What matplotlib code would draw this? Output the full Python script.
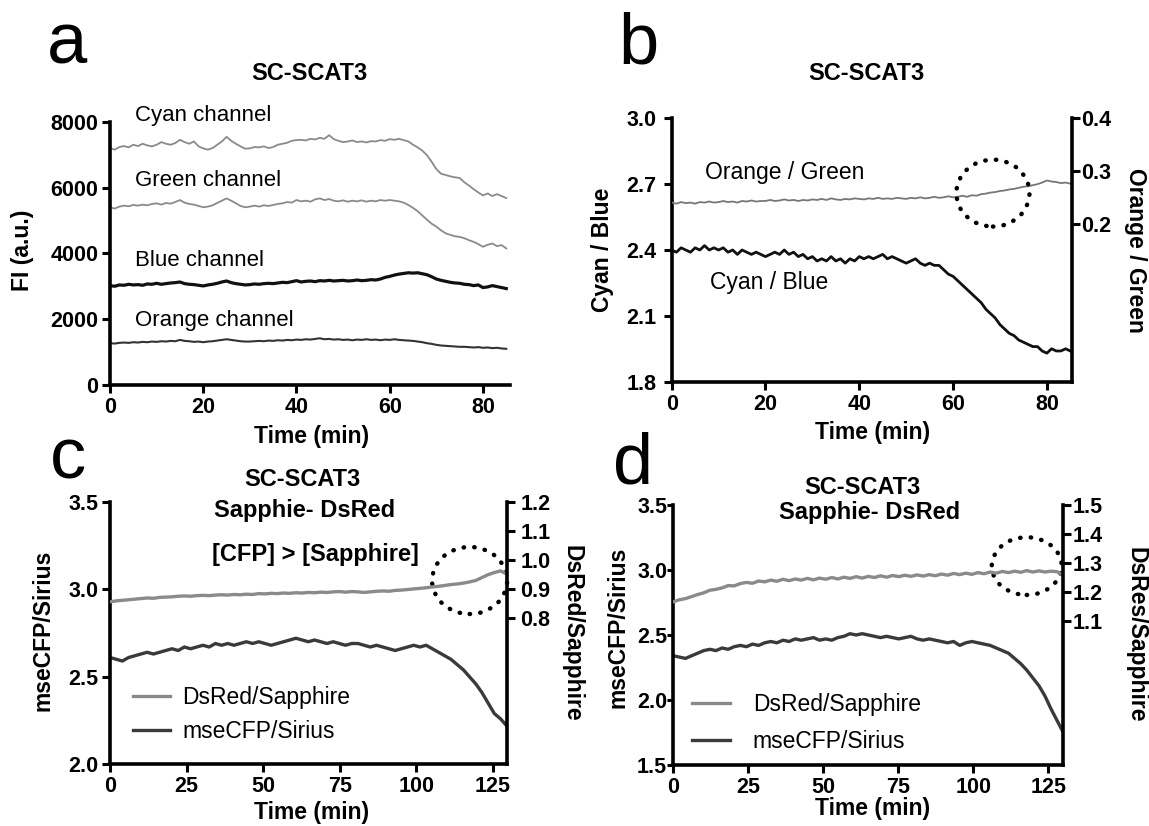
import matplotlib.pyplot as plt
import numpy as np
from matplotlib.patches import Ellipse

plt.rcParams['font.family'] = ['Liberation Sans', 'DejaVu Sans']

# ---------------- data ----------------
# panel a: fluorescence intensity per channel, one value per minute (0-85 min)
time_a = np.arange(0, 86)
cyan = [7200, 7150, 7230, 7260, 7220, 7300, 7260, 7330, 7280, 7250,
        7300, 7380, 7330, 7300, 7350, 7450, 7380, 7330, 7400, 7250,
        7190, 7150, 7200, 7300, 7400, 7540, 7420, 7330, 7250, 7180,
        7190, 7230, 7220, 7250, 7200, 7230, 7300, 7330, 7360, 7420,
        7440, 7450, 7430, 7480, 7460, 7510, 7480, 7590, 7470, 7420,
        7380, 7400, 7430, 7380, 7400, 7370, 7410, 7400, 7440, 7420,
        7470, 7450, 7480, 7440, 7400, 7300, 7220, 7120, 6980, 6780,
        6560, 6420, 6380, 6340, 6310, 6290, 6160, 6060, 5950, 5850,
        5760, 5820, 5740, 5800, 5740, 5680]
green = [5400, 5360, 5420, 5450, 5430, 5470, 5450, 5480, 5460, 5500,
         5520, 5480, 5530, 5510, 5560, 5620, 5540, 5500, 5480, 5440,
         5400, 5420, 5460, 5530, 5600, 5670, 5600, 5520, 5440, 5400,
         5420, 5450, 5420, 5460, 5440, 5470, 5500, 5520, 5560, 5540,
         5620, 5580, 5600, 5570, 5640, 5670, 5620, 5650, 5600, 5580,
         5610, 5570, 5600, 5580, 5610, 5570, 5600, 5580, 5620, 5600,
         5620, 5600, 5580, 5540, 5470, 5380, 5280, 5150, 5020, 4900,
         4810, 4700, 4610, 4560, 4520, 4500, 4460, 4400, 4350, 4280,
         4200, 4260, 4300, 4220, 4250, 4150]
blue = [3020, 3000, 3040, 3030, 3060, 3040, 3050, 3030, 3070, 3060,
        3090, 3060, 3080, 3100, 3110, 3130, 3080, 3060, 3050, 3030,
        3010, 3040, 3060, 3090, 3130, 3160, 3110, 3080, 3060, 3040,
        3050, 3070, 3060, 3080, 3090, 3080, 3100, 3120, 3110, 3140,
        3170, 3130, 3150, 3160, 3140, 3170, 3160, 3180, 3160, 3170,
        3180, 3160, 3170, 3190, 3170, 3180, 3200, 3190, 3220, 3270,
        3300, 3340, 3370, 3390, 3410, 3400, 3410, 3380, 3350, 3290,
        3220, 3180, 3150, 3120, 3100, 3090, 3060, 3050, 3020, 3040,
        2960, 2980, 3020, 2990, 2960, 2930]
orange = [1270, 1260, 1280, 1290, 1280, 1300, 1290, 1310, 1300, 1320,
          1310, 1330, 1320, 1340, 1330, 1370, 1340, 1330, 1310, 1320,
          1300, 1320, 1330, 1350, 1370, 1390, 1370, 1350, 1330, 1320,
          1320, 1330, 1340, 1330, 1350, 1340, 1360, 1350, 1370, 1360,
          1380, 1370, 1390, 1380, 1400, 1420, 1390, 1400, 1380, 1390,
          1370, 1380, 1360, 1380, 1370, 1390, 1370, 1380, 1360, 1380,
          1370, 1390, 1370, 1360, 1350, 1340, 1320, 1300, 1270, 1250,
          1220, 1200, 1190, 1180, 1170, 1160, 1160, 1150, 1140, 1150,
          1130, 1140, 1120, 1130, 1110, 1100]

# panel b: ratios
time_b = np.arange(0, 86)
orange_green = [0.240, 0.238, 0.241, 0.239, 0.240, 0.238, 0.241, 0.240, 0.242, 0.240,
                0.241, 0.243, 0.241, 0.242, 0.240, 0.243, 0.242, 0.244, 0.242, 0.243,
                0.243, 0.245, 0.243, 0.244, 0.246, 0.244, 0.245, 0.243, 0.245, 0.244,
                0.246, 0.245, 0.247, 0.245, 0.248, 0.246, 0.245, 0.247, 0.246, 0.248,
                0.247, 0.246, 0.248, 0.247, 0.249, 0.247, 0.248, 0.247, 0.249, 0.248,
                0.247, 0.249, 0.248, 0.250, 0.248, 0.249, 0.251, 0.249, 0.250, 0.252,
                0.250, 0.251, 0.253, 0.251, 0.254, 0.253, 0.256, 0.257, 0.259, 0.260,
                0.262, 0.263, 0.265, 0.266, 0.268, 0.270, 0.271, 0.273, 0.275, 0.278,
                0.282, 0.280, 0.279, 0.277, 0.278, 0.276]
cyan_blue = [2.40, 2.39, 2.41, 2.40, 2.39, 2.41, 2.40, 2.42, 2.40, 2.41,
             2.40, 2.41, 2.39, 2.40, 2.38, 2.40, 2.39, 2.38, 2.39, 2.38,
             2.37, 2.38, 2.39, 2.38, 2.40, 2.38, 2.39, 2.37, 2.38, 2.36,
             2.37, 2.35, 2.36, 2.35, 2.37, 2.35, 2.36, 2.34, 2.36, 2.35,
             2.37, 2.36, 2.37, 2.36, 2.37, 2.38, 2.36, 2.37, 2.36, 2.35,
             2.34, 2.35, 2.36, 2.34, 2.33, 2.34, 2.33, 2.33, 2.31, 2.29,
             2.28, 2.26, 2.24, 2.22, 2.20, 2.18, 2.16, 2.13, 2.11, 2.09,
             2.06, 2.04, 2.02, 2.01, 1.99, 1.98, 1.97, 1.96, 1.96, 1.94,
             1.93, 1.95, 1.94, 1.94, 1.95, 1.94]

# panel c
dsred_c = [0.857, 0.860, 0.862, 0.864, 0.866, 0.868, 0.870, 0.869, 0.872, 0.873,
           0.874, 0.876, 0.877, 0.876, 0.878, 0.879, 0.878, 0.880, 0.881, 0.880,
           0.882, 0.881, 0.883, 0.882, 0.885, 0.884, 0.886, 0.885, 0.887, 0.886,
           0.888, 0.887, 0.889, 0.888, 0.890, 0.889, 0.891, 0.892, 0.890, 0.892,
           0.891, 0.889, 0.891, 0.893, 0.894, 0.893, 0.896, 0.897, 0.899, 0.901,
           0.903, 0.905, 0.908, 0.910, 0.913, 0.916, 0.918, 0.921, 0.925, 0.930,
           0.940, 0.950, 0.957, 0.963, 0.952]
msecfp_c = [2.61, 2.60, 2.59, 2.61, 2.62, 2.63, 2.64, 2.63, 2.64, 2.65,
            2.66, 2.65, 2.67, 2.66, 2.67, 2.68, 2.67, 2.69, 2.68, 2.69,
            2.68, 2.69, 2.70, 2.69, 2.70, 2.69, 2.68, 2.69, 2.70, 2.71,
            2.72, 2.71, 2.70, 2.71, 2.70, 2.69, 2.70, 2.69, 2.68, 2.69,
            2.69, 2.68, 2.67, 2.68, 2.67, 2.66, 2.65, 2.66, 2.67, 2.68,
            2.67, 2.68, 2.66, 2.64, 2.62, 2.60, 2.57, 2.54, 2.50, 2.46,
            2.41, 2.35, 2.29, 2.26, 2.22]
time_c = np.linspace(0, 129.5, len(msecfp_c))

# panel d
dsred_d = [1.165, 1.172, 1.176, 1.183, 1.190, 1.196, 1.205, 1.208, 1.213, 1.221,
           1.220, 1.228, 1.232, 1.229, 1.237, 1.234, 1.240, 1.236, 1.243, 1.238,
           1.244, 1.240, 1.246, 1.241, 1.247, 1.243, 1.249, 1.244, 1.250, 1.246,
           1.252, 1.247, 1.253, 1.249, 1.255, 1.250, 1.256, 1.252, 1.257, 1.253,
           1.258, 1.254, 1.259, 1.255, 1.261, 1.257, 1.263, 1.259, 1.264, 1.260,
           1.266, 1.262, 1.268, 1.264, 1.270, 1.266, 1.271, 1.267, 1.273, 1.268,
           1.272, 1.268, 1.271, 1.269, 1.258]
msecfp_d = [2.34, 2.33, 2.32, 2.34, 2.36, 2.38, 2.39, 2.38, 2.40, 2.39,
            2.41, 2.42, 2.41, 2.43, 2.42, 2.44, 2.45, 2.44, 2.46, 2.45,
            2.47, 2.46, 2.47, 2.48, 2.46, 2.47, 2.46, 2.48, 2.49, 2.51,
            2.50, 2.51, 2.50, 2.49, 2.48, 2.49, 2.48, 2.47, 2.48, 2.49,
            2.47, 2.46, 2.47, 2.46, 2.45, 2.44, 2.45, 2.42, 2.44, 2.45,
            2.44, 2.43, 2.42, 2.40, 2.38, 2.36, 2.32, 2.28, 2.23, 2.17,
            2.11, 2.03, 1.93, 1.84, 1.75]
time_d = np.linspace(0, 130, len(msecfp_d))

# ---------------- figure ----------------
W, H = 1149, 826
fig = plt.figure(figsize=(W / 100, H / 100), dpi=100)


def box(l, t, r, b):
    return fig.add_axes([l / W, 1 - b / H, (r - l) / W, (b - t) / H])


def txt(x, y, s, **kw):
    fig.text(x / W, 1 - y / H, s, **kw)


def style(ax, spines, ylen=6, ypad=2.5):
    for s in ['left', 'right', 'top', 'bottom']:
        ax.spines[s].set_visible(s in spines)
        ax.spines[s].set_linewidth(2.6)
    ax.tick_params(axis='both', direction='out', length=6, width=2.2, labelsize=15.5)
    ax.tick_params(axis='y', length=ylen, pad=ypad)
    ax.tick_params(axis='x', pad=2.5)
    for lab in ax.get_xticklabels() + ax.get_yticklabels():
        lab.set_fontweight('bold')


def circle(ax, xy, w, h):
    ax.add_patch(Ellipse(xy, w, h, fill=False, ec='black', lw=3.2,
                         ls=(0, (0.1, 2.3)), capstyle='round', clip_on=False, zorder=5))


letter = dict(fontsize=52, va='baseline', ha='left')
title = dict(fontsize=17, fontweight='bold', ha='center', va='center')
alab = dict(fontsize=16.5, fontweight='bold', ha='center', va='center')

# ---- panel a ----
ax = box(110, 121.7, 510, 385)
ax.plot(time_a, cyan, color='#8a8a8a', lw=1.3)
ax.plot(time_a, green, color='#8a8a8a', lw=1.3)
ax.plot(time_a, blue, color='#111111', lw=2.3)
ax.plot(time_a, orange, color='#333333', lw=1.5)
ax.set_xlim(0, 85.8)
ax.set_ylim(0, 8000)
ax.set_xticks([0, 20, 40, 60, 80])
ax.set_yticks([0, 2000, 4000, 6000, 8000])
style(ax, ['left', 'bottom'])
for s, y in [('Cyan channel', 115), ('Green channel', 180),
             ('Blue channel', 260), ('Orange channel', 320)]:
    txt(135, y, s, fontsize=16, va='center', ha='left')
txt(47, 63, 'a', **letter)
txt(309, 73, 'SC-SCAT3', **title)
txt(312, 437, 'Time (min)', **alab)
txt(22, 250, 'FI (a.u.)', rotation=90, **alab)

# ---- panel b ----
ax = box(671.7, 118.3, 1071.7, 381.7)
ax2 = ax.twinx()
ax.plot(time_b, cyan_blue, color='#111111', lw=2.0)
ax2.plot(time_b, orange_green, color='#777777', lw=1.3)
ax.set_xlim(0, 85.3)
ax.set_ylim(1.8, 3.0)
ax2.set_ylim(-0.1, 0.4)
ax.set_xticks([0, 20, 40, 60, 80])
ax.set_yticks([1.8, 2.1, 2.4, 2.7, 3.0])
ax2.set_yticks([0.2, 0.3, 0.4])
style(ax, ['left', 'bottom'], ypad=5)
style(ax2, ['right'], ypad=1)
circle(ax2, (68.5, 0.258), 15.6, 0.127)
txt(705, 172, 'Orange / Green', fontsize=16.5, va='center', ha='left')
txt(710, 283, 'Cyan / Blue', fontsize=16.5, va='center', ha='left')
txt(618, 63, 'b', **letter)
txt(866, 73, 'SC-SCAT3', **title)
txt(873, 433, 'Time (min)', **alab)
txt(603, 250, 'Cyan / Blue', rotation=90, **alab)
txt(1136, 250, 'Orange / Green', rotation=270, **alab)

# ---- panel c ----
ax = box(110, 501.7, 506.7, 764.3)
ax2 = ax.twinx()
l2, = ax.plot(time_c, msecfp_c, color='#3a3a3a', lw=2.4, label='mseCFP/Sirius')
l1, = ax2.plot(time_c, dsred_c, color='#8a8a8a', lw=2.4, label='DsRed/Sapphire')
ax.set_xlim(0, 129.5)
ax.set_ylim(2.0, 3.5)
ax2.set_ylim(0.3, 1.2)
ax.set_xticks([0, 25, 50, 75, 100, 125])
ax.set_yticks([2.0, 2.5, 3.0, 3.5])
ax2.set_yticks([0.8, 0.9, 1.0, 1.1, 1.2])
style(ax, ['left', 'bottom'])
style(ax2, ['right'], ypad=4)
circle(ax, (117.4, 3.05), 24.5, 0.383)
ax2.legend(handles=[l1, l2], loc='upper left', bbox_to_anchor=(133 / W, 1 - 686 / H),
           bbox_transform=fig.transFigure, frameon=False, fontsize=16.5,
           borderaxespad=0, borderpad=0, handlelength=1.6, handletextpad=0.55,
           labelspacing=0.5)
txt(50, 479, 'c', **letter)
txt(302, 480, 'SC-SCAT3', **title)
txt(305, 510, 'Sapphie- DsRed', **title)
txt(315, 555, '[CFP] > [Sapphire]', **title)
txt(312, 813, 'Time (min)', **alab)
txt(43, 630, 'mseCFP/Sirius', rotation=90, **alab)
txt(572, 633, 'DsRed/Sapphire', rotation=270, **alab)

# ---- panel d ----
ax = box(673.3, 505, 1063.3, 765)
ax2 = ax.twinx()
l2, = ax.plot(time_d, msecfp_d, color='#3a3a3a', lw=2.4, label='mseCFP/Sirius')
l1, = ax2.plot(time_d, dsred_d, color='#8a8a8a', lw=2.4, label='DsRed/Sapphire')
ax.set_xlim(0, 130)
ax.set_ylim(1.5, 3.5)
ax2.set_ylim(0.6, 1.5)
ax.set_xticks([0, 25, 50, 75, 100, 125])
ax.set_yticks([1.5, 2.0, 2.5, 3.0, 3.5])
ax2.set_yticks([1.1, 1.2, 1.3, 1.4, 1.5])
style(ax, ['left', 'bottom'], ylen=4, ypad=0.5)
style(ax2, ['right'], ypad=1)
circle(ax, (117.8, 3.03), 23.3, 0.444)
ax2.legend(handles=[l1, l2], loc='upper left', bbox_to_anchor=(692 / W, 1 - 693 / H),
           bbox_transform=fig.transFigure, frameon=False, fontsize=16.5,
           borderaxespad=0, borderpad=0, handlelength=1.65, handletextpad=1.0,
           labelspacing=0.6)
txt(613, 483, 'd', **letter)
txt(862, 487, 'SC-SCAT3', **title)
txt(870, 513, 'Sapphie- DsRed', **title)
txt(873, 808, 'Time (min)', **alab)
txt(618, 627, 'mseCFP/Sirius', rotation=90, **alab)
txt(1136, 635, 'DsRes/Sapphire', rotation=270, **alab)

fig.savefig('out.png', dpi=100)
